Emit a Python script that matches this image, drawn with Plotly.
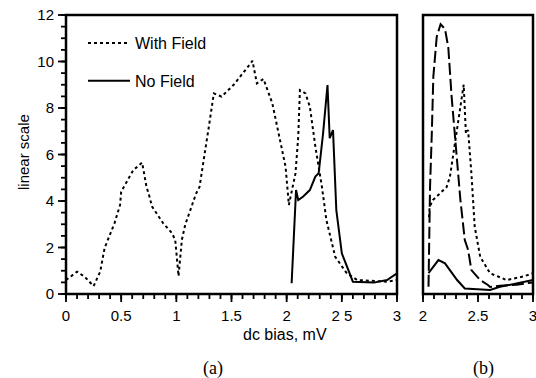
import numpy as np
import plotly.graph_objects as go

# ---- Panel (a) data ----
with_field_x = [0.0, 0.1, 0.17, 0.25, 0.31, 0.35, 0.44, 0.49, 0.5, 0.61, 0.69, 0.73, 0.75, 0.78,
                0.88, 0.96, 0.99, 1.02, 1.05, 1.08, 1.18, 1.21, 1.29, 1.34, 1.41, 1.52, 1.65,
                1.69, 1.73, 1.79, 1.87, 1.94, 1.99, 2.02, 2.08, 2.105, 2.12, 2.17, 2.21, 2.26,
                2.32, 2.36, 2.44, 2.545, 2.64, 2.91, 3.0]
with_field_y = [0.6, 0.96, 0.74, 0.34, 0.96, 1.98, 3.05, 3.83, 4.4, 5.33, 5.65, 4.6, 4.3, 3.76,
                3.05, 2.62, 2.32, 0.77, 2.32, 2.97, 4.33, 4.6, 7.05, 8.63, 8.49, 9.0, 9.78,
                10.03, 9.06, 9.25, 8.2, 6.62, 5.48, 3.83, 5.19, 6.77, 8.77, 8.63, 8.06, 6.34,
                4.6, 3.18, 1.6, 0.89, 0.6, 0.53, 0.6]

no_field_x = [2.045, 2.085, 2.105, 2.15, 2.21, 2.26, 2.29, 2.33, 2.37, 2.39, 2.42, 2.45,
              2.5, 2.6, 2.79, 2.91, 3.0]
no_field_y = [0.46, 4.47, 4.04, 4.19, 4.47, 5.05, 5.19, 6.91, 8.99, 6.7, 7.05, 3.61,
              1.75, 0.53, 0.49, 0.6, 0.89]

# ---- Panel (b) data ----
b_dashed_x = [2.05, 2.064, 2.08, 2.094, 2.125, 2.16, 2.2, 2.23, 2.26, 2.31, 2.34, 2.38,
              2.41, 2.44, 2.52, 2.59, 2.61, 2.7, 2.85, 3.0]
b_dashed_y = [0.31, 4.6, 6.9, 9.35, 11.07, 11.6, 11.4, 10.6, 8.5, 5.48, 4.04, 2.32,
              1.9, 1.03, 0.6, 0.39, 0.3, 0.35, 0.4, 0.5]

b_dotted_x = [2.055, 2.06, 2.09, 2.215, 2.245, 2.31, 2.37, 2.39, 2.41, 2.44, 2.47, 2.52,
              2.61, 2.76, 2.91, 3.0]
b_dotted_y = [3.3, 3.76, 4.04, 4.6, 5.05, 7.05, 9.0, 6.9, 7.05, 5.19, 2.9, 1.6,
              0.89, 0.6, 0.75, 0.89]

b_solid_x = [2.05, 2.14, 2.2, 2.31, 2.38, 2.61, 2.7, 3.0]
b_solid_y = [0.9, 1.46, 1.32, 0.6, 0.24, 0.17, 0.31, 0.6]

a_xrange = [0, 3]
b_xrange = [2, 3]
y_range = [0, 12]
a_xticks = [0, 0.5, 1, 1.5, 2, 2.5, 3]
a_xticklabels = ["0", "0.5", "1", "1.5", "2", "2 5", "3"]
b_xticks = [2, 2.5, 3]
y_ticks = [0, 2, 4, 6, 8, 10, 12]

FONT = "Liberation Sans, Arial, sans-serif"
SERIF = "Liberation Serif, Times New Roman, serif"
LW = 2
W, H = 536, 378
AX_L, AX_R, BX_L, BX_R, P_TOP, P_BOT = 66, 397, 423, 533, 15, 294

fig = go.Figure()
fig.add_trace(go.Scatter(x=with_field_x, y=with_field_y, mode="lines", name="With Field",
                         line=dict(color="black", width=LW, dash="3px,3px"),
                         xaxis="x", yaxis="y", legendgroup="a"))
fig.add_trace(go.Scatter(x=no_field_x, y=no_field_y, mode="lines", name="No Field",
                         line=dict(color="black", width=LW),
                         xaxis="x", yaxis="y", legendgroup="b"))
fig.add_trace(go.Scatter(x=b_dashed_x, y=b_dashed_y, mode="lines", showlegend=False,
                         line=dict(color="black", width=LW, dash="12px,4px"),
                         xaxis="x2", yaxis="y2"))
fig.add_trace(go.Scatter(x=b_dotted_x, y=b_dotted_y, mode="lines", showlegend=False,
                         line=dict(color="black", width=LW, dash="3px,3px"),
                         xaxis="x2", yaxis="y2"))
fig.add_trace(go.Scatter(x=b_solid_x, y=b_solid_y, mode="lines", showlegend=False,
                         line=dict(color="black", width=LW),
                         xaxis="x2", yaxis="y2"))


# ---- frames as paper-referenced shapes ----
def px(xp):
    return xp / W


def py(yp):
    return 1 - yp / H


shapes = []


def frame(l, r):
    shapes.append(dict(type="path", xref="paper", yref="paper",
                       path=f"M{px(l)},{py(P_BOT)} L{px(r)},{py(P_BOT)} L{px(r)},{py(P_TOP)} "
                            f"L{px(l)},{py(P_TOP)} Z",
                       line=dict(color="black", width=2.5), fillcolor="rgba(0,0,0,0)"))


frame(AX_L, AX_R)
frame(BX_L, BX_R)

# ---- tick marks: a line trace on a full-page pixel overlay subplot (x3/y3) ----
tick_x, tick_y = [], []


def xticks_px(vals, xr, l, r, length):
    for v in vals:
        xp = l + (v - xr[0]) / (xr[1] - xr[0]) * (r - l)
        tick_x.extend([xp, xp, None])
        tick_y.extend([P_BOT, P_BOT + length, None])


def yticks_px(vals, l, length):
    for v in vals:
        yp = P_BOT - (v - y_range[0]) / (y_range[1] - y_range[0]) * (P_BOT - P_TOP)
        tick_x.extend([l, l - length, None])
        tick_y.extend([yp, yp, None])


a_minor_x = [round(v, 2) for v in np.arange(a_xrange[0], a_xrange[1] + 1e-9, 0.1)]
b_minor_x = [round(v, 2) for v in np.arange(b_xrange[0], b_xrange[1] + 1e-9, 0.1)]
minor_y = [round(v, 2) for v in np.arange(y_range[0], y_range[1] + 1e-9, 0.5)]

xticks_px(a_minor_x, a_xrange, AX_L, AX_R, 5)
xticks_px(a_xticks, a_xrange, AX_L, AX_R, 8)
xticks_px(b_minor_x, b_xrange, BX_L, BX_R, 5)
xticks_px(b_xticks, b_xrange, BX_L, BX_R, 8)
yticks_px(minor_y, AX_L, 5)
yticks_px(y_ticks, AX_L, 8)

fig.add_trace(go.Scatter(x=tick_x, y=tick_y, mode="lines", showlegend=False,
                         hoverinfo="skip", line=dict(color="black", width=1.8),
                         xaxis="x3", yaxis="y3"))

TF = dict(family=FONT, size=15, color="black")


def axis(**kw):
    d = dict(showline=False, showgrid=False, zeroline=False, ticks="outside",
             tickcolor="rgba(0,0,0,0)", ticklen=8, tickfont=TF, fixedrange=True,
             automargin=False, ticklabeloverflow="allow")
    d.update(kw)
    return d


hidden = dict(visible=False, showgrid=False, zeroline=False, fixedrange=True,
              automargin=False)

fig.update_layout(
    width=W, height=H, autosize=False,
    margin=dict(l=0, r=0, t=0, b=0, pad=0, autoexpand=False),
    paper_bgcolor="white", plot_bgcolor="rgba(0,0,0,0)",
    font=dict(family=FONT, color="black"),
    xaxis=axis(domain=[AX_L / W, AX_R / W], range=a_xrange, tickvals=a_xticks,
               ticktext=a_xticklabels, anchor="y"),
    yaxis=axis(domain=[(H - P_BOT) / H, (H - P_TOP) / H], range=y_range, tickvals=y_ticks,
               anchor="x"),
    xaxis2=axis(domain=[BX_L / W, BX_R / W], range=b_xrange, tickvals=b_xticks, anchor="y2"),
    yaxis2=axis(domain=[(H - P_BOT) / H, (H - P_TOP) / H], range=y_range, tickvals=y_ticks,
                showticklabels=False, ticks="", anchor="x2"),
    xaxis3=dict(domain=[0, 1], range=[0, W], anchor="y3", **hidden),
    yaxis3=dict(domain=[0, 1], range=[H, 0], anchor="x3", **hidden),
    legend=dict(x=83 / W, y=1 - 26 / H, xanchor="left", yanchor="top",
                bgcolor="rgba(0,0,0,0)", font=dict(family=FONT, size=16, color="black"),
                traceorder="grouped", tracegroupgap=14, itemwidth=42),
    shapes=shapes,
    annotations=[
        dict(text="dc bias, mV", x=285 / W, y=1 - 334 / H, xref="paper", yref="paper",
             xanchor="center", yanchor="middle",
             showarrow=False, font=dict(family=FONT, size=16, color="black")),
        dict(text="linear scale", x=23 / W, y=1 - 152 / H, xref="paper", yref="paper",
             xanchor="center", yanchor="middle",
             textangle=-90, showarrow=False, font=dict(family=FONT, size=15, color="black")),
        dict(text="(a)", x=213 / W, y=1 - 368 / H, xref="paper", yref="paper",
             xanchor="center", yanchor="middle",
             showarrow=False, font=dict(family=SERIF, size=18, color="black")),
        dict(text="(b)", x=483 / W, y=1 - 368 / H, xref="paper", yref="paper",
             xanchor="center", yanchor="middle",
             showarrow=False, font=dict(family=SERIF, size=18, color="black")),
    ],
)

fig.write_html("out.html", config={"staticPlot": True})
